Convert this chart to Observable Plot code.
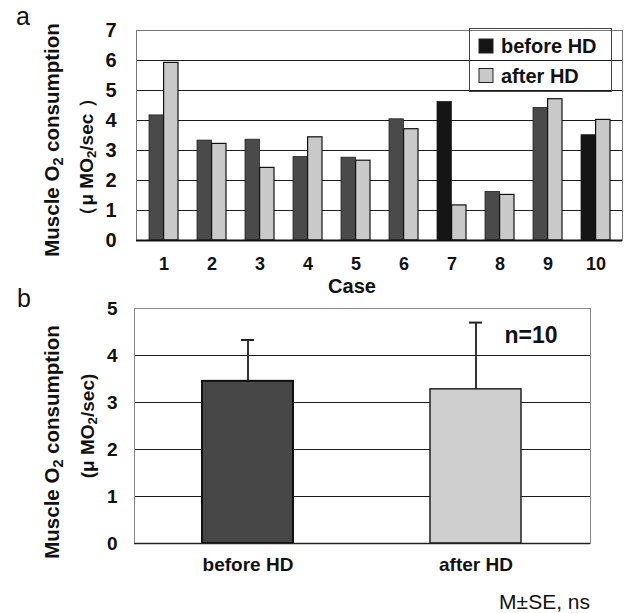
<!DOCTYPE html>
<html>
<head>
<meta charset="utf-8">
<script src="https://cdn.jsdelivr.net/npm/d3@7"></script>
<script src="https://cdn.jsdelivr.net/npm/@observablehq/plot@0.6"></script>
<style>
  body { margin: 0; background: #fff; }
  #wrap { position: relative; width: 625px; height: 613px; overflow: hidden;
          font-family: "Liberation Sans", Arial, Helvetica, sans-serif; color: #111; }
  #wrap > svg { position: absolute; left: 0; }
</style>
</head>
<body>
<div id="wrap"></div>
<script>
// ---------- data ----------
const cases = ["1", "2", "3", "4", "5", "6", "7", "8", "9", "10"];
const beforeHD = [4.17, 3.33, 3.36, 2.78, 2.76, 4.04, 4.62, 1.62, 4.42, 3.51];
const afterHD  = [5.92, 3.22, 2.42, 3.44, 2.66, 3.71, 1.17, 1.52, 4.71, 4.02];
const darkCases = ["7", "10"];
const yTicksA = [0, 1, 2, 3, 4, 5, 6, 7];

const groups = ["before HD", "after HD"];
const groupMeans = [3.45, 3.28];
const groupSE = [0.88, 1.42];
const yTicksB = [0, 1, 2, 3, 4, 5];

const seriesNames = ["before HD", "after HD"];
const nLabel = "n=10";
const footnote = "M\u00B1SE, ns";

// ---------- styles ----------
const FONT = '"Liberation Sans", Arial, Helvetica, sans-serif';
const C_BEFORE = "#4a4a4a", C_BEFORE_DARK = "#151515", C_AFTER = "#c9c9c9";

const rowsA = cases.map((c, i) => ({case: c, before: beforeHD[i], after: afterHD[i]}));
const rowsB = groups.map((g, i) => ({group: g, mean: groupMeans[i], top: groupMeans[i] + groupSE[i]}));

const wrap = document.getElementById("wrap");
const intFmt = d3.format("d");

// ---------- panel a ----------
const plotA = Plot.plot({
  width: 625, height: 300,
  marginTop: 30, marginBottom: 60, marginLeft: 136, marginRight: 3,
  style: {fontFamily: FONT, fontWeight: "bold", color: "#111", background: "transparent", overflow: "visible"},
  x: {domain: cases, paddingInner: 0.4, paddingOuter: 0.2, label: null},
  y: {domain: [0, 7], label: null},
  color: {type: "identity"},
  marks: [
    Plot.ruleY(yTicksA.slice(1, -1), {stroke: "#1a1a1a", strokeWidth: 1}),
    Plot.frame({stroke: "#777", strokeWidth: 1}),
    Plot.barY(rowsA, {x: "case", y: "before", insetRight: 14.6,
      fill: d => darkCases.includes(d.case) ? C_BEFORE_DARK : C_BEFORE, stroke: "#222", strokeWidth: 0.8}),
    Plot.barY(rowsA, {x: "case", y: "after", insetLeft: 14.6,
      fill: C_AFTER, stroke: "#111", strokeWidth: 1.2}),
    Plot.ruleY([0], {stroke: "#111", strokeWidth: 2}),
    Plot.axisX({tickSize: 0, tickPadding: 17, fontSize: 18, fontWeight: "bold", label: null}),
    Plot.axisY({ticks: yTicksA, tickFormat: intFmt, tickSize: 0, tickPadding: 20, fontSize: 20, fontWeight: "bold", label: null})
  ]
});
plotA.style.top = "0px";
wrap.appendChild(plotA);

// ---------- panel b ----------
const plotB = Plot.plot({
  width: 625, height: 333,
  marginTop: 28, marginBottom: 70, marginLeft: 134, marginRight: 35,
  style: {fontFamily: FONT, fontWeight: "bold", color: "#111", background: "transparent", overflow: "visible"},
  x: {domain: groups, paddingInner: 0.6, paddingOuter: 0.3, label: null},
  y: {domain: [0, 5], label: null},
  marks: [
    Plot.ruleY(yTicksB.slice(1, -1), {stroke: "#1a1a1a", strokeWidth: 1}),
    Plot.frame({stroke: "#888", strokeWidth: 1}),
    Plot.ruleX(rowsB, {x: "group", y1: "mean", y2: "top", stroke: "#333", strokeWidth: 2}),
    Plot.tickY(rowsB, {x: "group", y: "top", stroke: "#222", strokeWidth: 2, insetLeft: 39, insetRight: 39}),
    Plot.barY(rowsB.slice(0, 1), {x: "group", y: "mean", fill: "#474747", stroke: "#111", strokeWidth: 2}),
    Plot.barY(rowsB.slice(1), {x: "group", y: "mean", fill: "#cfcfcf", stroke: "#222", strokeWidth: 1.5}),
    Plot.ruleY([0], {stroke: "#222", strokeWidth: 1.5}),
    Plot.axisX({tickSize: 0, tickPadding: 14, fontSize: 19, fontWeight: "bold", label: null}),
    Plot.axisY({ticks: yTicksB, tickFormat: intFmt, tickSize: 0, tickPadding: 17, fontSize: 19, fontWeight: "bold", label: null})
  ]
});
plotB.style.top = "280px";
wrap.appendChild(plotB);

// ---------- annotations (titles, legend, notes) ----------
const ov = d3.select(wrap).append("svg")
  .attr("width", 625).attr("height", 613)
  .style("position", "absolute").style("top", "0px").style("left", "0px")
  .style("pointer-events", "none")
  .attr("font-family", FONT).attr("fill", "#111");

ov.append("text").attr("x", 16).attr("y", 25).attr("font-size", 25).text("a");
ov.append("text").attr("x", 17).attr("y", 307).attr("font-size", 25).text("b");

function yTitle(x, y, size, parts) {
  const t = ov.append("text")
    .attr("transform", `translate(${x},${y}) rotate(-90)`)
    .attr("text-anchor", "middle").attr("font-weight", "bold").attr("font-size", size);
  parts.forEach(p => {
    const s = t.append("tspan").text(p.t);
    if (p.sub) s.attr("font-size", size * 0.7).attr("baseline-shift", "-25%");
  });
}
yTitle(59, 140, 20.5, [{t: "Muscle O"}, {t: "2", sub: true}, {t: " consumption"}]);
yTitle(93, 157, 19, [{t: "\uFF08\u03BC MO"}, {t: "2", sub: true}, {t: "/sec \uFF09"}]);
yTitle(59, 442, 20.5, [{t: "Muscle O"}, {t: "2", sub: true}, {t: " consumption"}]);
yTitle(94, 426, 19, [{t: "(\u03BC MO"}, {t: "2", sub: true}, {t: "/sec)"}]);

ov.append("text").attr("x", 352).attr("y", 293).attr("text-anchor", "middle")
  .attr("font-weight", "bold").attr("font-size", 20).text("Case");

// legend
ov.append("rect").attr("x", 469.5).attr("y", 28.5).attr("width", 142).attr("height", 63)
  .attr("fill", "none").attr("stroke", "#444").attr("stroke-width", 1);
const legendFill = [C_BEFORE_DARK, C_AFTER];
seriesNames.forEach((name, i) => {
  ov.append("rect").attr("x", 479).attr("y", 39 + i * 29.5).attr("width", 14).attr("height", 14)
    .attr("fill", legendFill[i]).attr("stroke", "#222").attr("stroke-width", 1);
  ov.append("text").attr("x", 501).attr("y", 53 + i * 29.5)
    .attr("font-weight", "bold").attr("font-size", 20).text(name);
});

ov.append("text").attr("x", 531).attr("y", 343).attr("text-anchor", "middle")
  .attr("font-weight", "bold").attr("font-size", 23).text(nLabel);
ov.append("text").attr("x", 590).attr("y", 609).attr("text-anchor", "end")
  .attr("font-size", 21).text(footnote);
</script>
</body>
</html>
